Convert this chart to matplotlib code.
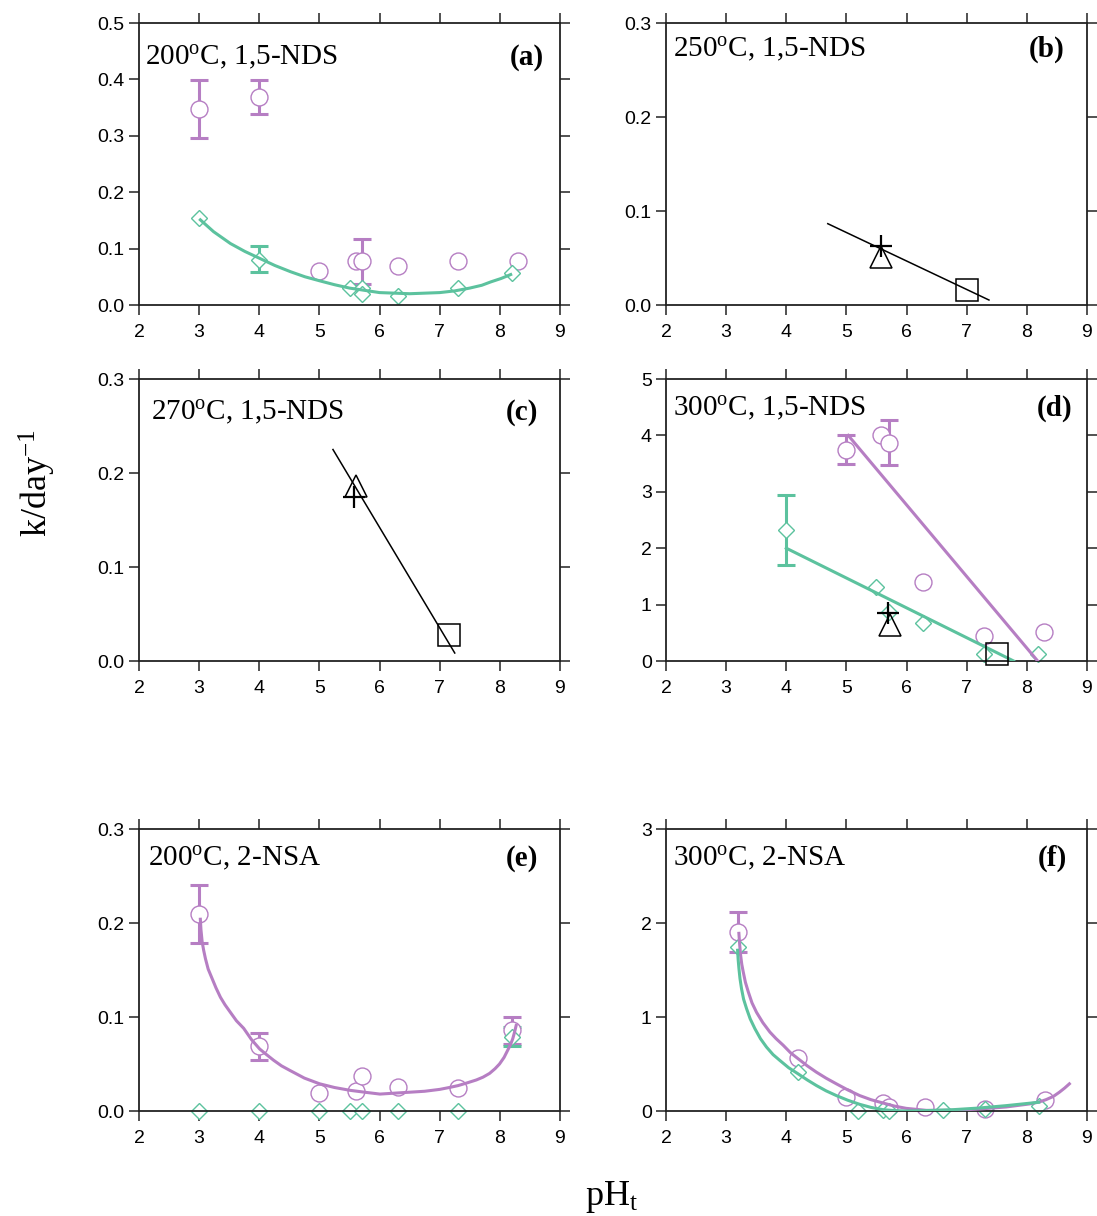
import numpy as np
import matplotlib
matplotlib.use("Agg")
import matplotlib.pyplot as plt

plt.rcParams['font.family'] = ['Liberation Sans', 'DejaVu Sans']
plt.rcParams['mathtext.fontset'] = 'custom'
plt.rcParams['mathtext.rm'] = 'Liberation Serif'
plt.rcParams['mathtext.it'] = 'Liberation Serif:italic'
plt.rcParams['mathtext.bf'] = 'Liberation Serif:bold'

PURPLE = '#B67EC3'
GREEN = '#5CC29E'

# ---- data ----
# (a) 200C 1,5-NDS
a_circ_x = [3.0, 4.0, 5.0, 5.6, 5.7, 6.3, 7.3, 8.3]
a_circ_y = [0.348, 0.369, 0.060, 0.078, 0.078, 0.070, 0.078, 0.078]
a_circ_err_x = [3.0, 4.0, 5.7]
a_circ_err_lo = [0.296, 0.338, 0.038]
a_circ_err_hi = [0.399, 0.399, 0.117]
a_dia_x = [3.0, 4.0, 5.5, 5.7, 5.7, 6.3, 7.3, 8.2]
a_dia_y = [0.155, 0.080, 0.030, 0.030, 0.019, 0.016, 0.031, 0.056]
a_dia_err_x = [4.0]
a_dia_err_lo = [0.059]
a_dia_err_hi = [0.105]
a_fit_x = [3.02, 3.24, 3.52, 3.76, 4.0, 4.26, 4.52, 4.76, 5.0, 5.25, 5.5, 5.75,
           6.0, 6.25, 6.5, 6.75, 7.0, 7.25, 7.5, 7.7, 7.85, 8.02, 8.18]
a_fit_y = [0.151, 0.130, 0.109, 0.095, 0.083, 0.070, 0.059, 0.050, 0.043, 0.036,
           0.030, 0.026, 0.022, 0.021, 0.020, 0.021, 0.022, 0.025, 0.030, 0.035,
           0.041, 0.047, 0.054]

# (b) 250C 1,5-NDS
b_plus = (5.57, 0.0626)
b_tri = (5.57, 0.051)
b_sq = (7.01, 0.016)
b_line_x = [4.69, 7.37]
b_line_y = [0.0865, 0.0053]

# (c) 270C 1,5-NDS
c_plus = (5.58, 0.175)
c_tri = (5.60, 0.186)
c_sq = (7.15, 0.028)
c_line_x = [5.225, 7.25]
c_line_y = [0.225, 0.0085]

# (d) 300C 1,5-NDS
d_circ_x = [5.0, 5.57, 5.7, 6.28, 7.28, 8.29]
d_circ_y = [3.75, 4.0, 3.87, 1.40, 0.45, 0.51]
d_circ_err_x = [5.0, 5.7]
d_circ_err_lo = [3.49, 3.48]
d_circ_err_hi = [4.0, 4.27]
d_dia_x = [4.0, 5.49, 5.7, 6.28, 7.28, 8.19]
d_dia_y = [2.32, 1.31, 0.875, 0.67, 0.12, 0.12]
d_dia_err_x = [4.0]
d_dia_err_lo = [1.71]
d_dia_err_hi = [2.95]
d_purple_x = [5.03, 8.18]
d_purple_y = [4.0, 0.0]
d_green_x = [4.0, 7.78]
d_green_y = [2.0, 0.0]
d_plus = (5.69, 0.845)
d_tri = (5.72, 0.64)
d_sq = (7.51, 0.12)

# (e) 200C 2-NSA
e_circ_x = [3.0, 4.0, 5.0, 5.6, 5.7, 6.3, 7.3, 8.2]
e_circ_y = [0.210, 0.069, 0.019, 0.021, 0.037, 0.026, 0.024, 0.086]
e_circ_err_x = [3.0, 4.0, 8.2]
e_circ_err_lo = [0.179, 0.054, 0.071]
e_circ_err_hi = [0.240, 0.083, 0.100]
e_dia_x = [3.0, 4.0, 5.0, 5.5, 5.7, 6.3, 7.3, 8.2]
e_dia_y = [0.0, 0.0, 0.0, 0.0, 0.0, 0.0, 0.0, 0.079]
e_dia_err_x = [8.2]
e_dia_err_lo = [0.069]
e_dia_err_hi = [0.089]
e_fit_x = [3.02, 3.03, 3.05, 3.075, 3.105, 3.15, 3.215, 3.28, 3.354, 3.43, 3.519,
           3.62, 3.74, 3.87, 4.006, 4.12, 4.238, 4.37, 4.514, 4.75, 5.0, 5.25,
           5.508, 5.75, 6.006, 6.25, 6.503, 6.75, 7.0, 7.16, 7.304, 7.46, 7.608,
           7.72, 7.829, 7.92, 7.994, 8.07, 8.133, 8.18, 8.215, 8.245, 8.271]
e_fit_y = [0.204, 0.193, 0.180, 0.171, 0.162, 0.151, 0.141, 0.131, 0.121, 0.113,
           0.105, 0.096, 0.088, 0.076, 0.066, 0.060, 0.054, 0.048, 0.043, 0.035,
           0.029, 0.025, 0.022, 0.020, 0.018, 0.019, 0.020, 0.021, 0.023, 0.025,
           0.027, 0.030, 0.033, 0.036, 0.040, 0.045, 0.050, 0.057, 0.065, 0.071,
           0.077, 0.084, 0.091]

# (f) 300C 2-NSA
f_circ_x = [3.2, 4.2, 5.0, 5.6, 5.7, 6.3, 7.3, 8.3]
f_circ_y = [1.90, 0.56, 0.146, 0.085, 0.04, 0.046, 0.02, 0.12]
f_circ_err_x = [3.2]
f_circ_err_lo = [1.69]
f_circ_err_hi = [2.12]
f_dia_x = [3.2, 4.2, 5.2, 5.6, 5.7, 6.6, 7.3, 8.2]
f_dia_y = [1.74, 0.41, 0.0, 0.01, 0.0, 0.014, 0.02, 0.05]
f_purple_x = [3.212, 3.225, 3.24, 3.26, 3.284, 3.32, 3.367, 3.43, 3.505, 3.61,
              3.727, 3.83, 3.948, 4.07, 4.197, 4.35, 4.501, 4.66, 4.833, 5.02,
              5.221, 5.41, 5.608, 5.8, 5.996, 6.328, 6.77, 7.213, 7.656, 8.043,
              8.2, 8.32, 8.44, 8.541, 8.63, 8.707]
f_purple_y = [1.89, 1.77, 1.66, 1.56, 1.48, 1.37, 1.27, 1.15, 1.05, 0.94,
              0.84, 0.77, 0.70, 0.62, 0.556, 0.48, 0.413, 0.35, 0.289, 0.225,
              0.164, 0.12, 0.085, 0.052, 0.028, 0.007, 0.007, 0.021, 0.043, 0.075,
              0.095, 0.121, 0.155, 0.20, 0.245, 0.289]
f_green_x = [3.19, 3.20, 3.212, 3.23, 3.256, 3.29, 3.339, 3.40, 3.478, 3.57,
             3.671, 3.78, 3.893, 4.04, 4.197, 4.35, 4.501, 4.66, 4.833, 5.02,
             5.221, 5.41, 5.608, 5.8, 5.996, 6.328, 6.77, 7.213, 7.656, 8.198]
f_green_y = [1.71, 1.61, 1.52, 1.41, 1.30, 1.19, 1.09, 0.98, 0.876, 0.77,
             0.68, 0.60, 0.538, 0.46, 0.395, 0.33, 0.271, 0.215, 0.164, 0.115,
             0.071, 0.038, 0.014, 0.004, 0.0, 0.004, 0.014, 0.032, 0.057, 0.093]

titles = ['200$^{\\mathrm{o}}$C, 1,5-NDS', '250$^{\\mathrm{o}}$C, 1,5-NDS',
          '270$^{\\mathrm{o}}$C, 1,5-NDS', '300$^{\\mathrm{o}}$C, 1,5-NDS',
          '200$^{\\mathrm{o}}$C, 2-NSA', '300$^{\\mathrm{o}}$C, 2-NSA']
letters = ['(a)', '(b)', '(c)', '(d)', '(e)', '(f)']
ylims = [0.5, 0.3, 0.3, 5, 0.3, 3]
yticks = [np.arange(0, 0.51, 0.1), [0, 0.1, 0.2, 0.3], [0, 0.1, 0.2, 0.3],
          [0, 1, 2, 3, 4, 5], [0, 0.1, 0.2, 0.3], [0, 1, 2, 3]]
yfmt = ['%.1f', '%.1f', '%.1f', '%d', '%.1f', '%d']

W, H = 1097, 1216
fig = plt.figure(figsize=(W / 100, H / 100), dpi=100)

# axes boxes in pixels: left, top
col_left = [139, 666]
row_top = [23, 379, 829]
aw, ah = 421, 282
# title / letter placement (pixels from axes left/top and right)
title_dx = [6, 7, 12, 7, 9, 7]
title_dy = [42, 34, 41, 37, 37, 37]
letter_dx = [16, 23, 22, 15, 22, 20]

axes = []
for i in range(6):
    l = col_left[i % 2]
    t = row_top[i // 2]
    ax = fig.add_axes([l / W, 1 - (t + ah) / H, aw / W, ah / H])
    axes.append(ax)


def circles(ax, x, y, ex, lo, hi):
    for xi, l_, h_ in zip(ex, lo, hi):
        yi = y[x.index(xi)]
        ax.errorbar([xi], [yi], yerr=[[yi - l_], [h_ - yi]], fmt='none',
                    ecolor=PURPLE, elinewidth=2.2, capsize=6.2, capthick=2.2,
                    zorder=1, clip_on=False)
    ax.plot(x, y, 'o', ms=12.2, mfc='white', mec=PURPLE, mew=1.0,
            zorder=2, clip_on=False)


def diamonds(ax, x, y, ex=(), lo=(), hi=()):
    for xi, l_, h_ in zip(ex, lo, hi):
        yi = y[x.index(xi)]
        ax.errorbar([xi], [yi], yerr=[[yi - l_], [h_ - yi]], fmt='none',
                    ecolor=GREEN, elinewidth=2.2, capsize=6.2, capthick=2.2,
                    zorder=1, clip_on=False)
    ax.plot(x, y, 'D', ms=8.2, mfc='white', mec=GREEN, mew=1.0,
            zorder=2, clip_on=False)


def black(ax, plus, tri, sq, lx, ly):
    ax.plot(lx, ly, color='black', lw=1.1, zorder=3)
    ax.plot(*tri, '^', ms=16, mfc='none', mec='black', mew=1.1, zorder=4)
    ax.plot(*sq, 's', ms=16, mfc='none', mec='black', mew=1.1, zorder=4,
            clip_on=False)
    ax.plot(*plus, '+', ms=16, mec='black', mew=1.6, zorder=5)


# (a)
ax = axes[0]
circles(ax, a_circ_x, a_circ_y, a_circ_err_x, a_circ_err_lo, a_circ_err_hi)
diamonds(ax, a_dia_x, a_dia_y, a_dia_err_x, a_dia_err_lo, a_dia_err_hi)
ax.plot(a_fit_x, a_fit_y, color=GREEN, lw=2.2, zorder=3)

# (b)
black(axes[1], b_plus, b_tri, b_sq, b_line_x, b_line_y)
# (c)
black(axes[2], c_plus, c_tri, c_sq, c_line_x, c_line_y)

# (d)
ax = axes[3]
circles(ax, d_circ_x, d_circ_y, d_circ_err_x, d_circ_err_lo, d_circ_err_hi)
diamonds(ax, d_dia_x, d_dia_y, d_dia_err_x, d_dia_err_lo, d_dia_err_hi)
ax.plot(d_purple_x, d_purple_y, color=PURPLE, lw=2.2, zorder=3)
ax.plot(d_green_x, d_green_y, color=GREEN, lw=2.2, zorder=3)
black(ax, d_plus, d_tri, d_sq, [], [])

# (e)
ax = axes[4]
circles(ax, e_circ_x, e_circ_y, e_circ_err_x, e_circ_err_lo, e_circ_err_hi)
diamonds(ax, e_dia_x, e_dia_y, e_dia_err_x, e_dia_err_lo, e_dia_err_hi)
ax.plot(e_fit_x, e_fit_y, color=PURPLE, lw=2.2, zorder=3)

# (f)
ax = axes[5]
circles(ax, f_circ_x, f_circ_y, f_circ_err_x, f_circ_err_lo, f_circ_err_hi)
diamonds(ax, f_dia_x, f_dia_y)
ax.plot(f_purple_x, f_purple_y, color=PURPLE, lw=2.2, zorder=3)
ax.plot(f_green_x, f_green_y, color=GREEN, lw=2.2, zorder=3)

for i, ax in enumerate(axes):
    ax.set_xlim(2, 9)
    ax.set_ylim(0, ylims[i])
    ax.set_xticks(range(2, 10))
    ax.set_yticks(yticks[i])
    ax.set_yticklabels([yfmt[i] % v for v in yticks[i]])
    ax.tick_params(direction='out', length=7.2, width=1.1, labelsize=14,
                   top=True, right=True, labeltop=False, labelright=False,
                   colors='#222222', labelcolor='black')
    ax.tick_params(axis='x', pad=6.5)
    ax.tick_params(axis='y', pad=3)
    for s in ax.spines.values():
        s.set_linewidth(1.3)
        s.set_color('#222222')
    ax.text(title_dx[i] / aw, 1 - title_dy[i] / ah, titles[i],
            transform=ax.transAxes, fontsize=21, family='Liberation Serif',
            ha='left', va='baseline')
    ax.text(1 - letter_dx[i] / aw, 1 - title_dy[i] / ah, letters[i],
            transform=ax.transAxes, fontsize=21, family='Liberation Serif',
            fontweight='bold', ha='right', va='baseline')

fig.text(37 / W, 1 - 483 / H, 'k/day$^{-1}$', rotation=90, fontsize=26,
         family='Liberation Serif', ha='center', va='center')
fig.text(612 / W, 1 - 1197 / H, 'pH$_{\\mathrm{t}}$', fontsize=26,
         family='Liberation Serif', ha='center', va='center')

fig.savefig('out.png', dpi=100)
